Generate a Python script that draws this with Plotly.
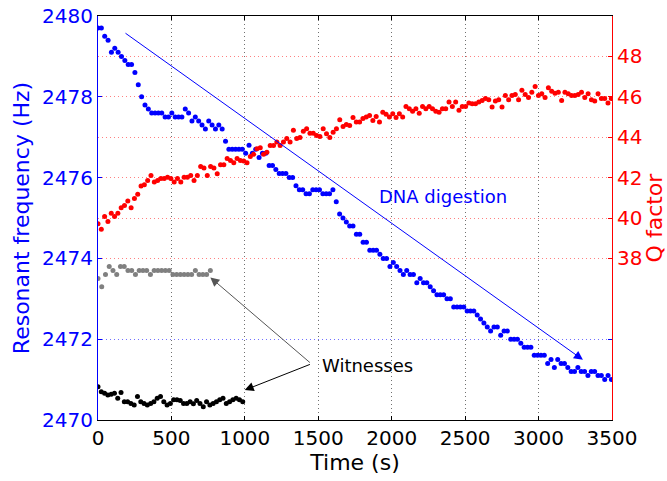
import numpy as np
import plotly.graph_objs as go

# Resonant frequency of the DNA-functionalised sensor (Hz), one sample every dt_freq seconds
dt_freq = 22.85
freq = [2479.7, 2479.7, 2479.5, 2479.4, 2479.1, 2479.2, 2479.1, 2479.0, 2478.9, 2478.8,
        2478.8, 2478.6, 2478.3, 2478.0, 2477.8, 2477.7, 2477.6, 2477.6, 2477.6, 2477.6,
        2477.5, 2477.5, 2477.6, 2477.5, 2477.5, 2477.5, 2477.7, 2477.6, 2477.4, 2477.5,
        2477.4, 2477.3, 2477.2, 2477.4, 2477.3, 2477.2, 2477.3, 2477.2, 2476.9, 2476.7,
        2476.7, 2476.7, 2476.7, 2476.7, 2476.6, 2476.8, 2476.6, 2476.7, 2476.5, 2476.6,
        2476.6, 2476.3, 2476.3, 2476.2, 2476.1, 2476.1, 2476.1, 2476.0, 2476.0, 2475.8,
        2475.7, 2475.7, 2475.6, 2475.6, 2475.7, 2475.7, 2475.7, 2475.6, 2475.6, 2475.6,
        2475.7, 2475.4, 2475.1, 2475.0, 2474.9, 2474.8, 2474.8, 2474.6, 2474.6, 2474.4,
        2474.4, 2474.2, 2474.2, 2474.2, 2474.1, 2474.0, 2474.0, 2473.8, 2473.9, 2473.8,
        2473.7, 2473.6, 2473.7, 2473.6, 2473.6, 2473.4, 2473.5, 2473.4, 2473.4, 2473.3,
        2473.2, 2473.1, 2473.1, 2473.1, 2473.0, 2473.0, 2472.8, 2472.8, 2472.8, 2472.8,
        2472.7, 2472.7, 2472.7, 2472.6, 2472.5, 2472.4, 2472.3, 2472.2, 2472.3, 2472.3,
        2472.1, 2472.2, 2472.2, 2472.0, 2472.0, 2472.0, 2471.9, 2471.8, 2471.8, 2471.8,
        2471.6, 2471.6, 2471.6, 2471.6, 2471.4, 2471.5, 2471.3, 2471.5, 2471.4, 2471.4,
        2471.3, 2471.2, 2471.2, 2471.3, 2471.2, 2471.2, 2471.1, 2471.2, 2471.2, 2471.1,
        2471.1, 2471.0, 2471.1, 2471.0]

# Q factor, same acquisition
dt_q = 22.55
qfactor = [39.72, 39.44, 40.08, 39.83, 40.24, 40.08, 40.24, 40.51, 40.62, 40.84,
           40.51, 40.96, 41.17, 41.58, 41.65, 41.86, 42.11, 41.78, 41.86, 41.95,
           41.95, 42.02, 41.95, 41.78, 41.95, 41.78, 42.02, 42.02, 42.11, 41.86,
           42.11, 42.55, 42.47, 42.11, 42.55, 42.47, 42.19, 42.64, 42.64, 42.94,
           42.85, 42.74, 42.94, 42.85, 42.82, 42.74, 43.05, 43.15, 43.43, 43.48,
           43.15, 43.26, 43.59, 43.59, 43.76, 43.59, 43.76, 43.93, 43.76, 44.34,
           43.93, 43.98, 44.30, 44.42, 44.20, 44.20, 44.09, 44.04, 44.42, 44.17,
           43.98, 44.25, 44.42, 44.87, 44.53, 44.63, 44.58, 44.97, 44.75, 44.75,
           44.92, 45.00, 45.08, 44.83, 45.03, 44.75, 45.24, 45.13, 45.00, 45.16,
           44.97, 45.16, 45.00, 45.52, 45.41, 45.29, 45.41, 45.19, 45.52, 45.41,
           45.52, 45.41, 45.29, 45.24, 45.41, 45.41, 45.74, 45.52, 45.74, 45.33,
           45.52, 45.52, 45.69, 45.66, 45.66, 45.74, 45.82, 45.91, 45.86, 45.49,
           45.79, 45.86, 45.49, 46.07, 45.86, 46.07, 46.12, 45.86, 46.32, 46.12,
           45.96, 46.23, 46.51, 46.07, 46.15, 45.96, 46.45, 46.28, 46.18, 46.23,
           45.82, 46.23, 46.15, 46.07, 46.07, 46.12, 46.23, 45.96, 46.15, 45.86,
           45.79, 46.15, 45.91, 45.91, 45.69, 45.91, 45.57]

# Witness sensors (no DNA)
dt_w1 = 25.5
witness1 = [2473.5, 2473.3, 2473.6, 2473.8, 2473.7, 2473.6, 2473.8, 2473.8, 2473.7, 2473.7,
            2473.6, 2473.7, 2473.7, 2473.7, 2473.6, 2473.7, 2473.7, 2473.7, 2473.7, 2473.7,
            2473.6, 2473.6, 2473.6, 2473.6, 2473.6, 2473.6, 2473.7, 2473.6, 2473.6, 2473.6,
            2473.7]
dt_w2 = 22.4
witness2 = [2470.82, 2470.70, 2470.66, 2470.62, 2470.64, 2470.66, 2470.54, 2470.68, 2470.45, 2470.45,
            2470.41, 2470.37, 2470.58, 2470.45, 2470.41, 2470.37, 2470.41, 2470.45, 2470.54, 2470.58,
            2470.45, 2470.37, 2470.41, 2470.50, 2470.50, 2470.48, 2470.41, 2470.41, 2470.45, 2470.40,
            2470.48, 2470.41, 2470.33, 2470.45, 2470.37, 2470.41, 2470.45, 2470.50, 2470.54, 2470.41,
            2470.45, 2470.50, 2470.54, 2470.50, 2470.45]

t_freq = np.arange(len(freq)) * dt_freq
t_q = np.arange(len(qfactor)) * dt_q
t_w1 = np.arange(len(witness1)) * dt_w1
t_w2 = np.arange(len(witness2)) * dt_w2

FONT = "DejaVu Sans"
dot = dict(size=5, line=dict(width=0))

trace1 = go.Scatter(x=t_freq, y=freq, mode='markers', marker=dict(color='#0000ff', **dot), yaxis='y')
trace2 = go.Scatter(x=t_q, y=qfactor, mode='markers', marker=dict(color='#ff0000', **dot), yaxis='y2')
trace3 = go.Scatter(x=t_w1, y=witness1, mode='markers', marker=dict(color='#808080', **dot), yaxis='y')
trace4 = go.Scatter(x=t_w2, y=witness2, mode='markers', marker=dict(color='#000000', **dot), yaxis='y')
data = [trace1, trace2, trace3, trace4]

layout = go.Layout(
    width=667, height=481,
    margin=dict(l=98, r=55, t=16, b=61),
    paper_bgcolor='white', plot_bgcolor='white',
    showlegend=False,
    font=dict(family=FONT),
    xaxis=dict(range=[0, 3500], dtick=500, showline=True, linecolor='black', linewidth=1,
               mirror='ticks', ticks='inside', ticklen=4, tickcolor='black', automargin=False,
               showgrid=True, gridcolor='#707070', griddash='1px,3px', zeroline=False,
               tickfont=dict(size=20, color='black'),
               title=dict(text='Time (s)', font=dict(size=22, color='black'), standoff=2)),
    yaxis=dict(range=[2470, 2480], dtick=2, showline=True, linecolor='#0000ff', linewidth=1,
               mirror='ticks', ticks='inside', ticklen=4, tickcolor='#0000ff', automargin=False,
               showgrid=True, gridcolor='#7070ff', griddash='1px,3px', zeroline=False,
               tickfont=dict(size=20, color='#0000ff'), tickformat='d',
               title=dict(text='Resonant frequency (Hz)', font=dict(size=22, color='#0000ff'), standoff=6)),
    yaxis2=dict(range=[30, 50], tickvals=[38, 40, 42, 44, 46, 48], overlaying='y', side='right',
                showline=True, linecolor='#ff0000', linewidth=1, ticks='inside', ticklen=4,
                tickcolor='#ff0000', showgrid=True, gridcolor='#ff8080', griddash='1px,3px',
                zeroline=False, tickfont=dict(size=20, color='#ff0000'), automargin=False,
                title=dict(text='Q factor', font=dict(size=22, color='#ff0000'), standoff=4)),
    annotations=[
        dict(x=3302, y=2471.49, ax=177, ay=2479.6, xref='x', yref='y', axref='x', ayref='y',
             text='', showarrow=True, arrowhead=2, arrowsize=1.8, arrowwidth=1, arrowcolor='#0000ff'),
        dict(x=765, y=2473.53, ax=1453, ay=2471.39, xref='x', yref='y', axref='x', ayref='y',
             text='', showarrow=True, arrowhead=2, arrowsize=1.8, arrowwidth=1, arrowcolor='#555555'),
        dict(x=999, y=2470.74, ax=1453, ay=2471.39, xref='x', yref='y', axref='x', ayref='y',
             text='', showarrow=True, arrowhead=2, arrowsize=1.8, arrowwidth=1, arrowcolor='#000000'),
        dict(x=2349, y=2475.52, xref='x', yref='y', text='DNA digestion', showarrow=False,
             font=dict(size=18, color='#0000ff')),
        dict(x=1836, y=2471.34, xref='x', yref='y', text='Witnesses', showarrow=False,
             font=dict(size=18, color='#000000')),
    ],
)

fig = go.Figure(data=data, layout=layout)
# the page body has a default 8px margin; drop it so the figure fills the window exactly
fig.write_html("out.html", config={'displayModeBar': False},
               post_script="document.body.style.margin='0';")
